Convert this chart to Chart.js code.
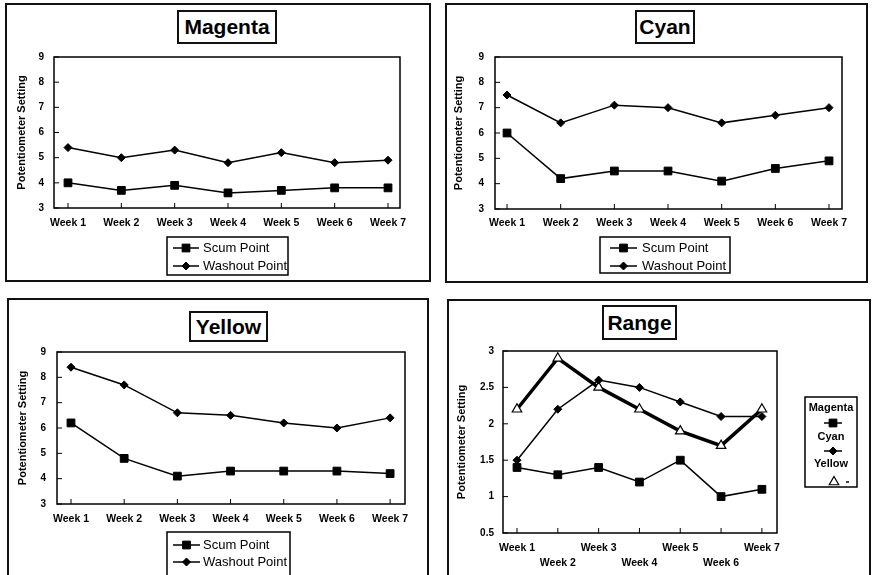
<!DOCTYPE html>
<html><head><meta charset="utf-8">
<script src="https://cdn.jsdelivr.net/npm/chart.js@4.4.1/dist/chart.umd.min.js"></script>
<style>
html,body{margin:0;padding:0;background:#fff;width:874px;height:575px;overflow:hidden;position:relative;}
canvas{position:absolute;left:0;top:0;}
.panel{position:absolute;border:2px solid #111;box-sizing:border-box;}
.ttl{position:absolute;border:2px solid #111;box-sizing:border-box;font:bold 21px "Liberation Sans",Arial,sans-serif;display:flex;align-items:center;justify-content:center;color:#000;background:#fff;}
</style></head><body>
<div class="panel" style="left:5px;top:3px;width:426px;height:279px"></div>
<div class="panel" style="left:445px;top:3px;width:423px;height:280px"></div>
<div class="panel" style="left:7px;top:298px;width:422px;height:300px"></div>
<div class="panel" style="left:447px;top:299px;width:424px;height:276px;border-bottom:none"></div>
<canvas id="c1" width="874" height="575"></canvas>
<canvas id="c2" width="874" height="575"></canvas>
<canvas id="c3" width="874" height="575"></canvas>
<canvas id="c4" width="874" height="575"></canvas>
<div class="ttl" style="left:177px;top:10px;width:100px;height:34px">Magenta</div>
<div class="ttl" style="left:635px;top:10px;width:60px;height:34px">Cyan</div>
<div class="ttl" style="left:189px;top:311px;width:79px;height:31px">Yellow</div>
<div class="ttl" style="left:602px;top:305px;width:75px;height:35px">Range</div>
<script>
// ---- data ----
const weeks = ['Week 1','Week 2','Week 3','Week 4','Week 5','Week 6','Week 7'];
const magentaScum    = [4.0, 3.7, 3.9, 3.6, 3.7, 3.8, 3.8];
const magentaWashout = [5.4, 5.0, 5.3, 4.8, 5.2, 4.8, 4.9];
const cyanScum       = [6.0, 4.2, 4.5, 4.5, 4.1, 4.6, 4.9];
const cyanWashout    = [7.5, 6.4, 7.1, 7.0, 6.4, 6.7, 7.0];
const yellowScum     = [6.2, 4.8, 4.1, 4.3, 4.3, 4.3, 4.2];
const yellowWashout  = [8.4, 7.7, 6.6, 6.5, 6.2, 6.0, 6.4];
const rangeMagenta   = [1.4, 1.3, 1.4, 1.2, 1.5, 1.0, 1.1];
const rangeCyan      = [1.5, 2.2, 2.6, 2.5, 2.3, 2.1, 2.1];
const rangeYellow    = [2.2, 2.9, 2.5, 2.2, 1.9, 1.7, 2.2];
const settingTicks   = [3, 4, 5, 6, 7, 8, 9];
const rangeTicks     = [0.5, 1, 1.5, 2, 2.5, 3];
const seriesNames    = ['Scum Point', 'Washout Point'];
const inkNames       = ['Magenta', 'Cyan', 'Yellow'];
const yTitle = 'Potentiometer Setting';

const FONT = '"Liberation Sans", Arial, sans-serif';
const pts = vals => vals.map((v, i) => ({x: i + 1, y: v}));

function marker(ctx, style, x, y, r, fill, bw) {
  ctx.beginPath();
  if (style === 'rect') { const s = r * Math.SQRT1_2; ctx.rect(x - s, y - s, 2 * s, 2 * s); }
  else if (style === 'rectRot') { ctx.moveTo(x, y - r); ctx.lineTo(x + r, y); ctx.lineTo(x, y + r); ctx.lineTo(x - r, y); ctx.closePath(); }
  else { ctx.moveTo(x, y - r); ctx.lineTo(x + r * 0.866, y + r / 2); ctx.lineTo(x - r * 0.866, y + r / 2); ctx.closePath(); }
  ctx.fillStyle = fill; ctx.fill();
  ctx.lineWidth = bw; ctx.strokeStyle = '#000'; ctx.stroke();
}

const framePlugin = {
  id: 'frame',
  afterDraw(chart, args, opts) {
    const {ctx, chartArea: a} = chart;
    const xs = chart.scales.x, ys = chart.scales.y;
    ctx.save();
    ctx.strokeStyle = '#000';
    ctx.lineWidth = 1.5;
    ctx.strokeRect(a.left, a.top, a.right - a.left, a.bottom - a.top);
    ctx.lineWidth = 1;
    ctx.beginPath();
    xs.ticks.forEach(t => { const p = xs.getPixelForValue(t.value); ctx.moveTo(p, a.bottom); ctx.lineTo(p, a.bottom - 5); });
    ys.ticks.forEach(t => { const p = ys.getPixelForValue(t.value); ctx.moveTo(a.left, p); ctx.lineTo(a.left + 5, p); });
    ctx.stroke();
    const L = opts.legend;
    if (L) {
      const [x1, y1, x2, y2] = L.box;
      ctx.fillStyle = '#fff';
      ctx.fillRect(x1, y1, x2 - x1, y2 - y1);
      ctx.lineWidth = 1.5; ctx.strokeStyle = '#000';
      ctx.strokeRect(x1, y1, x2 - x1, y2 - y1);
      ctx.textBaseline = 'middle';
      L.rows.forEach(r => {
        const ds = chart.data.datasets[r.ds];
        const lx = r.lineX || L.lineX;
        const mx = r.mx !== undefined ? r.mx : (lx[0] + lx[1]) / 2;
        if (!r.noLine) {
          ctx.beginPath(); ctx.lineWidth = 1.5; ctx.strokeStyle = '#000';
          ctx.moveTo(lx[0], r.lineY); ctx.lineTo(lx[1], r.lineY); ctx.stroke();
        }
        if (r.dash) { ctx.beginPath(); ctx.lineWidth = 1.5; ctx.moveTo(r.dash[0], r.lineY); ctx.lineTo(r.dash[1], r.lineY); ctx.stroke(); }
        marker(ctx, ds.pointStyle, mx, r.lineY, ds.pointRadius, ds.pointBackgroundColor, ds.pointBorderWidth);
        ctx.fillStyle = '#000';
        ctx.font = L.font;
        if (L.centerX) { ctx.textAlign = 'center'; ctx.fillText(ds.label, L.centerX, r.textY); }
        else { ctx.textAlign = 'left'; ctx.fillText(ds.label, L.textX, r.lineY); }
      });
    }
    ctx.restore();
  }
};

function ds(label, vals, style, r, opts) {
  return Object.assign({
    label, data: pts(vals), borderColor: '#000', borderWidth: 1.5, tension: 0, fill: false,
    pointStyle: style, pointRadius: r, pointBackgroundColor: '#000', pointBorderColor: '#000', pointBorderWidth: 1
  }, opts || {});
}

function build(id, datasets, g, yTicks, legend, stagger) {
  const lp = g.titleX - 6.6;
  const yW = g.L - lp;
  const xH = stagger ? 40 : 30;
  return new Chart(document.getElementById(id), {
    type: 'line',
    data: {datasets},
    plugins: [framePlugin],
    options: {
      responsive: false, animation: false, devicePixelRatio: 1,
      layout: {padding: {left: lp, top: g.T, right: 874 - g.R, bottom: 575 - g.B - xH}},
      plugins: {legend: {display: false}, tooltip: {enabled: false}, title: {display: false}, frame: {legend}},
      scales: {
        x: {
          type: 'linear', min: g.xMin, max: g.xMax, bounds: 'data',
          afterFit(s) { s.height = xH; },
          afterBuildTicks(s) { s.ticks = weeks.map((w, i) => ({value: i + 1})); },
          grid: {display: false, drawTicks: false}, border: {display: false},
          ticks: {
            autoSkip: false, maxRotation: 0, minRotation: 0, padding: g.xPad, color: '#000',
            font: {family: FONT, size: 10.5, weight: 'bold', lineHeight: stagger ? '15px' : 1.2},
            callback: (v) => { const i = Math.round(v) - 1; return (stagger && i % 2 === 1) ? ['', weeks[i]] : weeks[i]; }
          }
        },
        y: {
          type: 'linear', min: yTicks[0], max: yTicks[yTicks.length - 1], bounds: 'data',
          afterFit(s) { s.width = yW; },
          afterBuildTicks(s) { s.ticks = yTicks.map(v => ({value: v})); },
          grid: {display: false, drawTicks: false}, border: {display: false},
          ticks: {padding: g.yPad, color: '#000', font: {family: FONT, size: 10, weight: 'bold'}, callback: v => String(v)},
          title: {display: true, text: yTitle, color: '#000', padding: 0, font: {family: FONT, size: 11, weight: 'bold', lineHeight: 1.2}}
        }
      }
    }
  });
}

const rowLegend = (box, y1, y2, lineX, textX) => ({
  box, lineX, textX, font: '13px ' + FONT,
  rows: [{ds: 0, lineY: y1}, {ds: 1, lineY: y2}]
});

build('c1', [ds(seriesNames[0], magentaScum, 'rect', 5.5), ds(seriesNames[1], magentaWashout, 'rectRot', 4)],
  {L: 54, R: 400, T: 57, B: 208, titleX: 22, yPad: 10, xPad: 8.7, xMin: 0.7375, xMax: 7.225},
  settingTicks, rowLegend([167, 237, 288, 275], 248, 266, [173, 199], 203));

build('c2', [ds(seriesNames[0], cyanScum, 'rect', 5.5), ds(seriesNames[1], cyanWashout, 'rectRot', 4)],
  {L: 495, R: 842, T: 57, B: 209, titleX: 459, yPad: 11, xPad: 7.7, xMin: 0.776, xMax: 7.242},
  settingTicks, rowLegend([600, 237, 730, 273], 248, 266, [610, 637], 642));

build('c3', [ds(seriesNames[0], yellowScum, 'rect', 5.5), ds(seriesNames[1], yellowWashout, 'rectRot', 4)],
  {L: 57, R: 405, T: 352, B: 504, titleX: 23, yPad: 11, xPad: 8.7, xMin: 0.737, xMax: 7.28},
  settingTicks, rowLegend([167, 532, 290, 590], 545, 562, [173, 200], 203));

build('c4', [
    ds(inkNames[0], rangeMagenta, 'rect', 5.5),
    ds(inkNames[1], rangeCyan, 'rectRot', 4),
    ds(inkNames[2], rangeYellow, 'triangle', 5.5, {borderWidth: 3.5, pointBackgroundColor: '#fff', pointBorderWidth: 1.2})
  ],
  {L: 503, R: 777, T: 351, B: 533, titleX: 462, yPad: 9, xPad: 7.5, xMin: 0.657, xMax: 7.37},
  rangeTicks, {
    box: [805, 397, 857, 487], centerX: 831, font: 'bold 11px ' + FONT, lineX: [824, 842],
    rows: [
      {ds: 0, textY: 408, lineY: 423},
      {ds: 1, textY: 437, lineY: 451},
      {ds: 2, textY: 464, lineY: 482, noLine: true, mx: 834, dash: [846, 849]}
    ]
  }, true);
</script>
</body></html>
